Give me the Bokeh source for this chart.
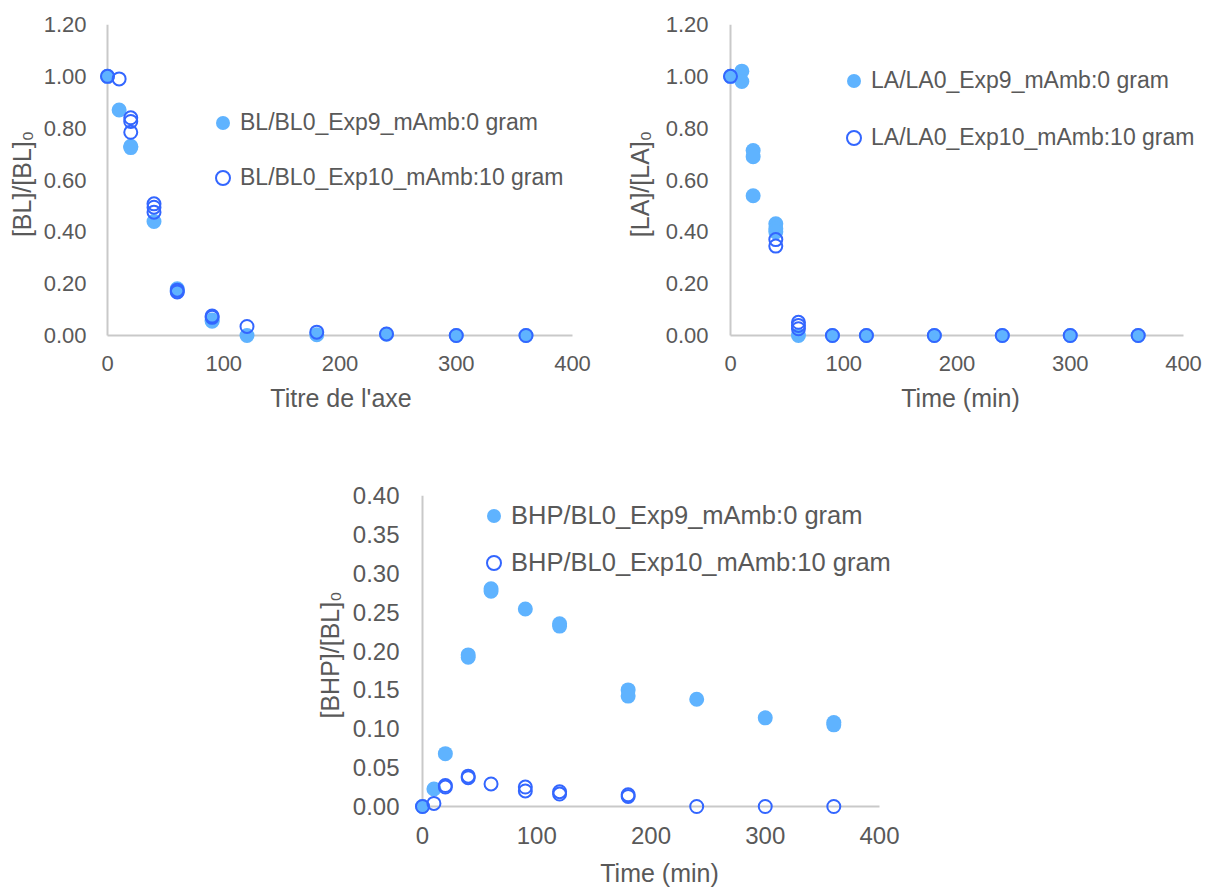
from bokeh.plotting import figure
from bokeh.models import (Range1d, FixedTicker, PrintfTickFormatter, Legend,
                          LegendItem, Spacer)
from bokeh.layouts import column, row
from bokeh.embed import file_html
from bokeh.resources import INLINE

# ---------------- data ----------------
x_ticks = [0, 100, 200, 300, 400]
conc_ticks = [0.0, 0.2, 0.4, 0.6, 0.8, 1.0, 1.2]
bhp_ticks = [0.0, 0.05, 0.10, 0.15, 0.20, 0.25, 0.30, 0.35, 0.40]

bl_t9 = [0, 10, 20, 20, 40, 60, 60, 90, 90, 120, 180, 240, 300, 360]
bl_v9 = [1.00, 0.87, 0.73, 0.725, 0.44, 0.18, 0.17, 0.06, 0.055, 0.0, 0.003, 0.005, 0.0, 0.0]
bl_t10 = [0, 10, 20, 20, 20, 40, 40, 40, 60, 60, 90, 90, 120, 180, 240, 300, 360]
bl_v10 = [1.00, 0.99, 0.84, 0.826, 0.784, 0.508, 0.495, 0.476, 0.175, 0.168,
          0.075, 0.07, 0.035, 0.013, 0.006, 0.0, 0.0]

la_t9 = [0, 10, 10, 20, 20, 20, 40, 40, 40, 60, 90, 120, 180, 240, 300, 360]
la_v9 = [1.00, 1.02, 0.98, 0.714, 0.69, 0.539, 0.431, 0.412, 0.40, 0.0,
         0.0, 0.0, 0.0, 0.0, 0.0, 0.0]
la_t10 = [0, 40, 40, 60, 60, 60, 90, 120, 180, 240, 300, 360]
la_v10 = [1.00, 0.37, 0.345, 0.051, 0.039, 0.026, 0.0, 0.0, 0.0, 0.0, 0.0, 0.0]

bhp_t9 = [0, 10, 20, 40, 40, 60, 60, 90, 120, 120, 180, 180, 240, 300, 360, 360]
bhp_v9 = [0.0, 0.0226, 0.068, 0.195, 0.192, 0.280, 0.277, 0.254, 0.235, 0.232,
          0.150, 0.142, 0.138, 0.114, 0.108, 0.105]
bhp_t10 = [0, 10, 20, 20, 40, 40, 60, 90, 90, 120, 120, 180, 180, 240, 300, 360]
bhp_v10 = [0.0, 0.004, 0.027, 0.025, 0.039, 0.037, 0.029, 0.025, 0.020, 0.019,
           0.016, 0.015, 0.013, 0.0, 0.0, 0.0]

names_bl = ["BL/BL0_Exp9_mAmb:0 gram", "BL/BL0_Exp10_mAmb:10 gram"]
names_la = ["LA/LA0_Exp9_mAmb:0 gram", "LA/LA0_Exp10_mAmb:10 gram"]
names_bhp = ["BHP/BL0_Exp9_mAmb:0 gram", "BHP/BL0_Exp10_mAmb:10 gram"]

# ---------------- styles ----------------
FONT = "Liberation Sans"
TXT = "#595959"
AXIS = "#C9C9C9"
FILL = "#5FB3FF"
RING = "#3366FF"
PAD = 8


def make_chart(t9, v9, t10, v10, names, yticks, ytitle, xtitle,
               fig_box, ax_box, ext_right, ystand, ytitle_stand, xstand, xtitle_stand,
               leg_glyph_tl, leg_spacing, leg_standoff,
               tick_fs="22px", title_fs="25px", legend_fs="23px"):
    fl, ft, fr, fb = fig_box
    al, at, ar, ab = ax_box
    xmax = x_ticks[-1]
    ymax = yticks[-1]
    xs = (ar - al) / xmax
    ys = (ab - at) / ymax
    p = figure(frame_width=ar + ext_right - (al - PAD), frame_height=ab + PAD - at,
               min_border_left=al - PAD - fl, min_border_right=fr - ar - ext_right,
               min_border_top=at - ft, min_border_bottom=fb - (ab + PAD),
               x_range=Range1d(-PAD / xs, xmax + ext_right / xs),
               y_range=Range1d(-PAD / ys, ymax),
               output_backend="svg", toolbar_location=None)
    p.outline_line_color = None
    p.grid.visible = False
    p.background_fill_color = "white"

    for ax in (p.xaxis[0], p.yaxis[0]):
        ax.axis_line_color = None
        ax.major_tick_line_color = None
        ax.minor_tick_line_color = None
        ax.major_tick_out = 0
        ax.major_tick_in = 0
        ax.major_label_text_font = FONT
        ax.major_label_text_font_size = tick_fs
        ax.major_label_text_color = TXT
        ax.axis_label_text_font = FONT
        ax.axis_label_text_font_size = title_fs
        ax.axis_label_text_font_style = "normal"
        ax.axis_label_text_color = TXT
    p.xaxis.ticker = FixedTicker(ticks=x_ticks)
    p.xaxis.major_label_standoff = xstand
    p.xaxis.axis_label = xtitle
    p.xaxis.axis_label_standoff = xtitle_stand
    p.yaxis.ticker = FixedTicker(ticks=yticks)
    p.yaxis.formatter = PrintfTickFormatter(format="%.2f")
    p.yaxis.major_label_standoff = ystand
    p.yaxis.axis_label = ytitle
    p.yaxis.axis_label_standoff = ytitle_stand

    # axis lines at x=0 and y=0, spanning the tick range
    p.segment(x0=[x_ticks[0], x_ticks[0]], y0=[yticks[0], yticks[0]],
              x1=[x_ticks[-1], x_ticks[0]], y1=[yticks[0], yticks[-1]],
              line_color=AXIS, line_width=2)

    r9 = p.scatter(t9, v9, size=15, marker="circle", fill_color=FILL,
                   line_color=None)
    r10 = p.scatter(t10, v10, size=13, marker="circle", fill_alpha=0,
                    line_color=RING, line_width=2)

    gl, gt = leg_glyph_tl
    g = 35
    leg_h = 2 * g + leg_spacing
    loc = (int(round(gl - (al - PAD))), int(round((ab + PAD) - (gt + leg_h))))
    legend = Legend(items=[LegendItem(label=names[0], renderers=[r9]),
                           LegendItem(label=names[1], renderers=[r10])],
                    location=loc,
                    orientation="vertical", spacing=leg_spacing, padding=0, margin=0,
                    glyph_width=g, glyph_height=g, label_standoff=leg_standoff,
                    label_text_font=FONT, label_text_font_size=legend_fs,
                    label_text_color=TXT, border_line_color=None,
                    background_fill_alpha=0)
    p.add_layout(legend)
    return p


p1 = make_chart(bl_t9, bl_v9, bl_t10, bl_v10, names_bl, conc_ticks,
                "[BL]/[BL]\u2080", "Titre de l'axe",
                fig_box=(0, 0, 600, 440), ax_box=(107, 24, 572, 335), ext_right=10,
                ystand=13, ytitle_stand=5, xstand=12, xtitle_stand=10,
                leg_glyph_tl=(205.5, 105.5), leg_spacing=20, leg_standoff=-4)

p2 = make_chart(la_t9, la_v9, la_t10, la_v10, names_la, conc_ticks,
                "[LA]/[LA]\u2080", "Time (min)",
                fig_box=(600, 0, 1206, 440), ax_box=(730, 24, 1183, 335), ext_right=15,
                ystand=14, ytitle_stand=9, xstand=12, xtitle_stand=10,
                leg_glyph_tl=(835.5, 62.5), leg_spacing=22, leg_standoff=-6)

p3 = make_chart(bhp_t9, bhp_v9, bhp_t10, bhp_v10, names_bhp, bhp_ticks,
                "[BHP]/[BL]\u2080", "Time (min)",
                fig_box=(300, 440, 920, 888), ax_box=(422, 495, 879, 806), ext_right=25,
                ystand=15, ytitle_stand=6, xstand=12, xtitle_stand=12,
                leg_glyph_tl=(475.5, 498), leg_spacing=12, leg_standoff=-4,
                tick_fs="24px", title_fs="25px", legend_fs="25.5px")

layout = column(row(p1, p2), row(Spacer(width=300, height=448), p3))

open("out.html", "w").write(file_html(layout, INLINE))
